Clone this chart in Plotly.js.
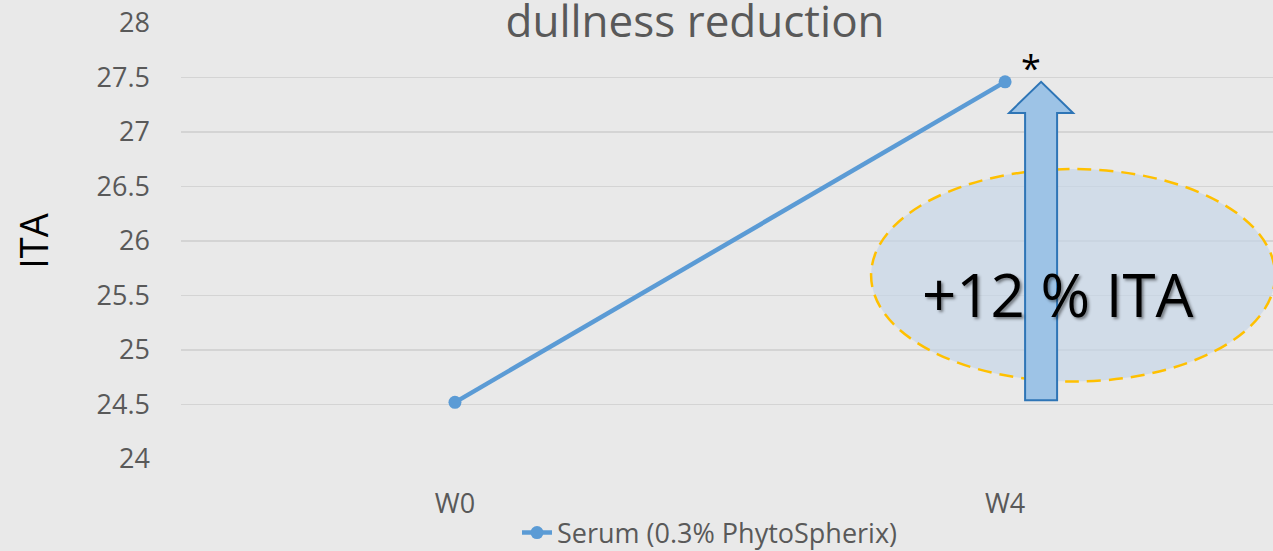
<!DOCTYPE html>
<html>
<head>
<meta charset="utf-8">
<script src="https://cdn.plot.ly/plotly-3.0.1.min.js"></script>
<style>
html,body{margin:0;padding:0;background:#e9e9e9;}
#chart{width:1273px;height:551px;}
</style>
</head>
<body>
<div id="chart"></div>
<script>
const categories = ["W0", "W4"];
const seriesName = "Serum (0.3% PhytoSpherix)";
const itaValues = [24.52, 27.46];
const yTicks = [24, 24.5, 25, 25.5, 26, 26.5, 27, 27.5, 28];
const yTickLabels = ["24", "24.5", "25", "25.5", "26", "26.5", "27", "27.5", "28"];
const chartTitle = "dullness reduction";
const yTitle = "ITA";
const significance = "*";

const pct = Math.round((itaValues[1] - itaValues[0]) / itaValues[0] * 100);
const gainLabel = "+" + pct + " % ITA";

const font = "'Open Sans', 'Noto Sans', sans-serif";
const grey = "#595959";

const trace = {
  type: "scatter",
  mode: "lines+markers",
  x: categories,
  y: itaValues,
  name: seriesName,
  line: {color: "#5b9bd5", width: 4.5},
  marker: {color: "#5b9bd5", size: 13},
  cliponaxis: false
};

const y0 = itaValues[0], y1 = itaValues[1];
const headBase = y1 - 0.285;
const arrowPath = `M 20,${y0 + 0.02} L 52,${y0 + 0.02} L 52,${headBase} L 68,${headBase} L 36,${y1} L 4,${headBase} L 20,${headBase} Z`;

const layout = {
  width: 1273,
  height: 551,
  paper_bgcolor: "#e9e9e9",
  plot_bgcolor: "rgba(0,0,0,0)",
  margin: {l: 181, r: 0, t: 23, b: 92, autoexpand: false},
  showlegend: true,
  title: {
    text: chartTitle,
    font: {family: font, size: 44, color: grey},
    x: 0.546, xanchor: "center", xref: "container",
    y: 1 - 22/551, yanchor: "middle", yref: "container"
  },
  xaxis: {
    type: "category",
    range: [-0.498, 1.487],
    automargin: false,
    showgrid: false,
    zeroline: false,
    showline: false,
    ticks: "",
    ticklabelstandoff: 26,
    tickfont: {family: font, size: 27, color: grey},
    fixedrange: true
  },
  yaxis: {
    range: [24, 28],
    automargin: false,
    tickvals: yTicks,
    ticktext: yTickLabels,
    showgrid: true,
    gridcolor: "#d4d4d4",
    gridwidth: 1.5,
    zeroline: false,
    showline: false,
    ticks: "",
    ticklabelstandoff: 30,
    tickfont: {family: font, size: 27, color: grey},
    title: {text: yTitle, font: {family: font, size: 38, color: "#000"}, standoff: 36},
    fixedrange: true
  },
  legend: {
    orientation: "h",
    xref: "container", x: 710/1273, xanchor: "center",
    yref: "container", y: 1 - 533/551, yanchor: "middle",
    font: {family: font, size: 27, color: grey},
    bgcolor: "rgba(0,0,0,0)"
  },
  shapes: [
    {
      type: "circle",
      xref: "x", xsizemode: "pixel", xanchor: 1,
      x0: -134, x1: 270,
      yref: "y", y0: 24.71, y1: 26.66,
      fillcolor: "rgba(197,214,232,0.65)",
      line: {color: "#ffc000", width: 2.5, dash: "14px,8px"},
      layer: "above"
    },
    {
      type: "path",
      xref: "x", xsizemode: "pixel", xanchor: 1,
      yref: "y",
      path: arrowPath,
      fillcolor: "#9dc3e6",
      line: {color: "#2e75b6", width: 2},
      layer: "above"
    }
  ],
  annotations: [
    {
      text: gainLabel,
      x: categories[1], y: 25.5,
      xref: "x", yref: "y",
      xshift: 52, yshift: 2,
      showarrow: false,
      font: {family: font, size: 60, color: "#000", shadow: "2px 2px 3px rgba(0,0,0,0.45)"},
      xanchor: "center", yanchor: "middle"
    },
    {
      text: significance,
      x: categories[1], y: itaValues[1],
      xref: "x", yref: "y",
      xshift: 26, yshift: -12,
      showarrow: false,
      font: {family: font, size: 36, color: "#000"},
      xanchor: "center", yanchor: "bottom"
    }
  ]
};

Plotly.newPlot("chart", [trace], layout, {displayModeBar: false, staticPlot: true});
</script>
</body>
</html>
